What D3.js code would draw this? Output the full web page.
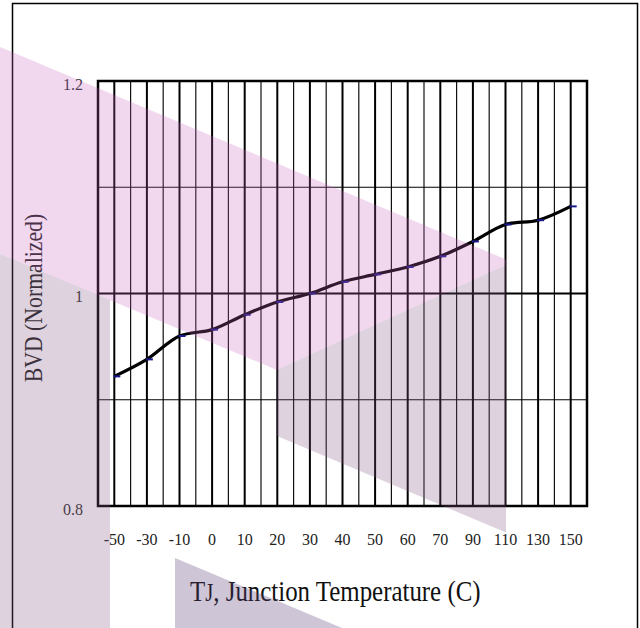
<!DOCTYPE html>
<html>
<head>
<meta charset="utf-8">
<script src="https://cdn.jsdelivr.net/npm/d3@7"></script>
<style>
  body { margin: 0; background: #fff; }
  svg { display: block; }
</style>
</head>
<body>
<div id="container"></div>
<script>
/* DATA */
const categories = ["-50", "-30", "-10", "0", "10", "20", "30", "40", "50", "60", "70", "90", "110", "130", "150"];
const bvd = [0.922, 0.938, 0.960, 0.966, 0.980, 0.992, 1.000, 1.011, 1.018, 1.025, 1.035, 1.049, 1.065, 1.069, 1.082];
const yTicks = [0.8, 1, 1.2];
const yGrid = [0.9, 1.0, 1.1];

/* CONSTANTS */
const width = 640;
const height = 628;
const plot = { left: 98, right: 587, top: 81, bottom: 506 };
const font = "'Liberation Serif', 'DejaVu Serif', serif";

const svg = d3.select("#container")
  .append("svg")
  .attr("width", width)
  .attr("height", height);

// outer frame
svg.append("rect")
  .attr("x", 12.5).attr("y", 3.5)
  .attr("width", 625).attr("height", 700)
  .attr("fill", "none")
  .attr("stroke", "#000")
  .attr("stroke-width", 1.5);

/* SCALES */
const xScale = d3.scaleBand()
  .domain(categories)
  .range([plot.left, plot.right])
  .padding(0);

const yScale = d3.scaleLinear()
  .domain([0.8, 1.2])
  .range([plot.bottom, plot.top]);

const bw = xScale.bandwidth();

/* GRID */
const grid = svg.append("g");

// thin lines on band edges
grid.selectAll(".edge")
  .data(categories.slice(1))
  .join("line")
    .attr("x1", d => xScale(d)).attr("x2", d => xScale(d))
    .attr("y1", plot.top).attr("y2", plot.bottom)
    .attr("stroke", "#111")
    .attr("stroke-width", 1.2);

// thick lines on category centres
grid.selectAll(".mid")
  .data(categories)
  .join("line")
    .attr("x1", d => xScale(d) + bw / 2).attr("x2", d => xScale(d) + bw / 2)
    .attr("y1", plot.top).attr("y2", plot.bottom)
    .attr("stroke", "#000")
    .attr("stroke-width", 2);

grid.selectAll(".h")
  .data(yGrid)
  .join("line")
    .attr("x1", plot.left).attr("x2", plot.right)
    .attr("y1", d => yScale(d)).attr("y2", d => yScale(d))
    .attr("stroke", "#000")
    .attr("stroke-width", d => d === 1 ? 2 : 1.2);

// plot border
svg.append("rect")
  .attr("x", plot.left).attr("y", plot.top)
  .attr("width", plot.right - plot.left)
  .attr("height", plot.bottom - plot.top)
  .attr("fill", "none")
  .attr("stroke", "#000")
  .attr("stroke-width", 2.5);

/* AXES */
const xAxis = d3.axisBottom(xScale).tickSize(0).tickPadding(28);
const gx = svg.append("g")
  .attr("transform", `translate(0, ${plot.bottom})`)
  .call(xAxis);
gx.select(".domain").remove();
gx.selectAll("text")
  .attr("font-family", font)
  .attr("font-size", 16)
  .attr("fill", "#222");

const yAxis = d3.axisLeft(yScale).tickValues(yTicks).tickSize(0).tickPadding(15)
  .tickFormat(d => String(d));
const gy = svg.append("g")
  .attr("transform", `translate(${plot.left}, 0)`)
  .call(yAxis);
gy.select(".domain").remove();
gy.selectAll("text")
  .attr("font-family", font)
  .attr("font-size", 16)
  .attr("dy", "0.5em")
  .attr("fill", "#333");

/* LINE */
const line = d3.line()
  .x((d, i) => xScale(categories[i]) + bw / 2)
  .y(d => yScale(d))
  .curve(d3.curveCatmullRom.alpha(0.5));

svg.append("path")
  .datum(bvd)
  .attr("d", line)
  .attr("fill", "none")
  .attr("stroke", "#000")
  .attr("stroke-width", 3.2);

// dash markers
svg.selectAll(".mark")
  .data(bvd)
  .join("line")
    .attr("x1", (d, i) => xScale(categories[i]) + bw / 2 - 1)
    .attr("x2", (d, i) => xScale(categories[i]) + bw / 2 + 6)
    .attr("y1", d => yScale(d)).attr("y2", d => yScale(d))
    .attr("stroke", "#1a1a8c")
    .attr("stroke-width", 2);

/* TITLES */
// condensed serif look: scale horizontally instead of textLength
const xt = svg.append("text")
  .attr("transform", "translate(190, 601) scale(0.83, 1)")
  .attr("font-family", font)
  .attr("font-size", 30)
  .attr("fill", "#111");
xt.append("tspan").text("T");
xt.append("tspan").attr("font-size", 25).text("J");
xt.append("tspan").text(", Junction Temperature (C)");

svg.append("text")
  .attr("transform", "translate(42, 298) rotate(-90) scale(0.87, 1)")
  .attr("text-anchor", "middle")
  .attr("font-family", font)
  .attr("font-size", 25)
  .attr("fill", "#222")
  .text("BVD (Normalized)");

/* WATERMARK */
const wm = svg.append("g").style("pointer-events", "none");
wm.append("path")
  .attr("d", "M0,47 L506,259.5 L506,265 L277,370 L0,254 Z")
  .attr("fill", "rgba(200,100,192,0.25)");
wm.append("path")
  .attr("d", "M0,254 L110,300 L110,640 L0,640 Z M277,370 L506,265 L506,532.5 L277,436 Z")
  .attr("fill", "rgba(130,90,130,0.27)");
wm.append("path")
  .attr("d", "M175,558 L342,628 L175,628 Z")
  .attr("fill", "rgba(92,65,118,0.3)");
</script>
</body>
</html>
